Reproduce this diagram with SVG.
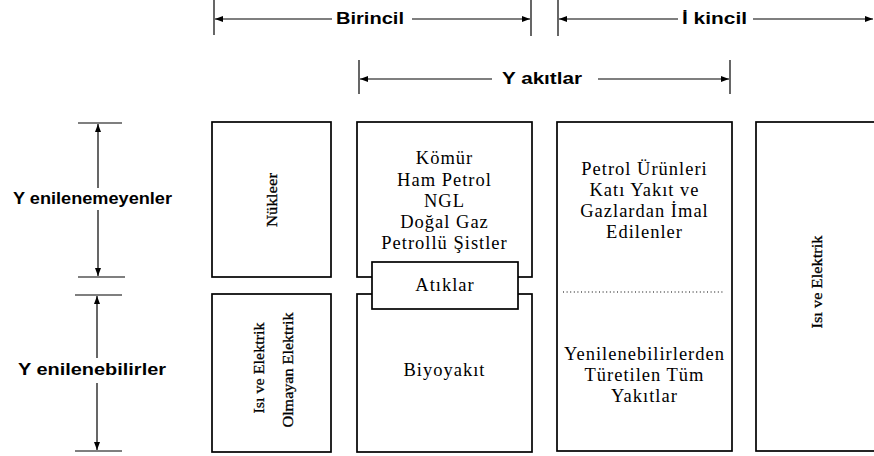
<svg xmlns="http://www.w3.org/2000/svg" width="874" height="456" viewBox="0 0 874 456">
<defs>
<marker id="ah" viewBox="0 0 8 6" refX="8" refY="3" markerWidth="8" markerHeight="6" markerUnits="userSpaceOnUse" orient="auto-start-reverse">
<path d="M0,0 L8,3 L0,6 z" fill="#000"/>
</marker>
<style>
.box{fill:#fff;stroke:#000;stroke-width:1.7}
.ln{stroke:#000;stroke-width:1.2;fill:none}
.arr{stroke:#000;stroke-width:1.2;fill:none;marker-end:url(#ah)}
.lbl{font-family:"Liberation Sans",Arial,sans-serif;font-weight:bold;font-size:16px;fill:#000}
.st{font-family:"Liberation Serif","Times New Roman",serif;font-size:18.5px;fill:#000;text-anchor:middle;letter-spacing:1px}
.vt{font-family:"Liberation Serif","Times New Roman",serif;font-size:15.5px;fill:#000;text-anchor:middle;stroke:#000;stroke-width:0.3}
</style>
</defs>
<rect width="874" height="456" fill="#fff"/>

<g id="connectors">
<line class="ln" x1="214" y1="0" x2="214" y2="35"/>
<line class="ln" x1="531" y1="0" x2="531" y2="36"/>
<line class="arr" x1="332" y1="19" x2="215" y2="19"/>
<line class="arr" x1="412" y1="19" x2="530" y2="19"/>
<line class="ln" x1="558" y1="0" x2="558" y2="36"/>
<line class="arr" x1="678" y1="19" x2="559" y2="19"/>
<line class="arr" x1="753" y1="19" x2="873" y2="19"/>
<line class="ln" x1="359" y1="60" x2="359" y2="94"/>
<line class="ln" x1="730" y1="60" x2="730" y2="94"/>
<line class="arr" x1="492" y1="79" x2="360" y2="79"/>
<line class="arr" x1="598" y1="79" x2="729" y2="79"/>
<line class="ln" x1="78" y1="123" x2="122" y2="123"/>
<line class="ln" x1="78" y1="277" x2="125" y2="277"/>
<line class="arr" x1="98" y1="188" x2="98" y2="124"/>
<line class="arr" x1="98" y1="210" x2="98" y2="276"/>
<line class="ln" x1="75" y1="295" x2="122" y2="295"/>
<line class="ln" x1="75" y1="451" x2="122" y2="451"/>
<line class="arr" x1="97" y1="358" x2="97" y2="296"/>
<line class="arr" x1="97" y1="383" x2="97" y2="450"/>
</g>

<g id="dim-labels">
<text class="lbl" x="336" y="24" textLength="68" lengthAdjust="spacingAndGlyphs">Birincil</text>
<text class="lbl" x="682" y="24" textLength="65" lengthAdjust="spacingAndGlyphs">İ kincil</text>
<text class="lbl" x="502" y="84" textLength="80" lengthAdjust="spacingAndGlyphs">Y akıtlar</text>
<text class="lbl" x="13" y="204" textLength="159" lengthAdjust="spacingAndGlyphs">Y enilenemeyenler</text>
<text class="lbl" x="18" y="375" textLength="148" lengthAdjust="spacingAndGlyphs">Y enilenebilirler</text>
</g>

<g id="nukleer">
<rect class="box" x="212" y="122" width="119" height="155"/>
<text class="vt" transform="translate(277,200) rotate(-90)" textLength="54" lengthAdjust="spacingAndGlyphs">Nükleer</text>
</g>

<g id="isi-elektrik-left">
<rect class="box" x="212" y="294" width="119" height="158"/>
<text class="vt" transform="translate(264,368) rotate(-90)" textLength="91" lengthAdjust="spacingAndGlyphs">Isı ve Elektrik</text>
<text class="vt" transform="translate(293,370) rotate(-90)" textLength="115" lengthAdjust="spacingAndGlyphs">Olmayan Elektrik</text>
</g>

<g id="fosil">
<rect class="box" x="357" y="122" width="175" height="155"/>
<text class="st" x="444.5" y="164">Kömür</text>
<text class="st" x="444.5" y="186">Ham Petrol</text>
<text class="st" x="444.5" y="207">NGL</text>
<text class="st" x="444.5" y="228">Doğal Gaz</text>
<text class="st" x="444.5" y="249">Petrollü Şistler</text>
</g>

<g id="biyoyakit">
<rect class="box" x="357" y="294" width="175" height="158"/>
<text class="st" x="444.5" y="376">Biyoyakıt</text>
</g>

<g id="atiklar">
<rect class="box" x="372" y="262" width="146" height="47"/>
<text class="st" x="445" y="291">Atıklar</text>
</g>

<g id="ikincil-yakitlar">
<rect class="box" x="557" y="122" width="175" height="329"/>
<text class="st" x="644.5" y="175">Petrol Ürünleri</text>
<text class="st" x="644.5" y="196">Katı Yakıt ve</text>
<text class="st" x="644.5" y="217">Gazlardan İmal</text>
<text class="st" x="644.5" y="238">Edilenler</text>
<line x1="563" y1="292" x2="725" y2="292" stroke="#000" stroke-width="1.2" stroke-dasharray="1 2.6"/>
<text class="st" x="644.5" y="360">Yenilenebilirlerden</text>
<text class="st" x="644.5" y="381">Türetilen Tüm</text>
<text class="st" x="644.5" y="402">Yakıtlar</text>
</g>

<g id="isi-elektrik-right">
<rect class="box" x="756" y="122" width="140" height="329"/>
<text class="vt" transform="translate(822,282) rotate(-90)" textLength="93" lengthAdjust="spacingAndGlyphs">Isı ve Elektrik</text>
</g>
</svg>
